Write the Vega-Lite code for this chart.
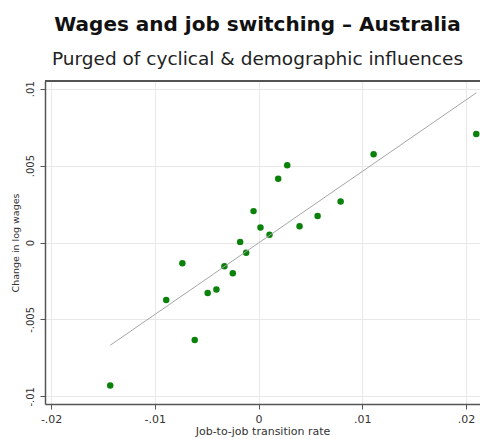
{
  "$schema": "https://vega.github.io/schema/vega-lite/v6.json",
  "width": 435,
  "height": 323,
  "autosize": {"type": "none"},
  "padding": {"left": 45, "top": 81, "right": 0, "bottom": 35},
  "background": "white",
  "config": {"view": {"stroke": null}},
  "title": {
    "text": "Wages and job switching – Australia",
    "subtitle": "Purged of cyclical & demographic influences",
    "anchor": "middle",
    "frame": "group",
    "font": "DejaVu Sans",
    "fontSize": 20,
    "fontWeight": "bold",
    "color": "#111111",
    "subtitleFont": "DejaVu Sans",
    "subtitleFontSize": 18.5,
    "subtitleColor": "#222222",
    "subtitlePadding": 15,
    "offset": 12,
    "dx": -5
  },
  "data": {
    "values": [
      {"x": -0.0143, "y": -0.0093},
      {"x": -0.0089, "y": -0.00374},
      {"x": -0.00734, "y": -0.00135},
      {"x": -0.00615, "y": -0.00634},
      {"x": -0.0049, "y": -0.00328},
      {"x": -0.00406, "y": -0.00306},
      {"x": -0.00329, "y": -0.00154},
      {"x": -0.00248, "y": -0.002},
      {"x": -0.00177, "y": 0.00004},
      {"x": -0.00119, "y": -0.00067},
      {"x": -0.00048, "y": 0.00204},
      {"x": 0.00019, "y": 0.00098},
      {"x": 0.00106, "y": 0.0005},
      {"x": 0.0019, "y": 0.00415},
      {"x": 0.00277, "y": 0.00502},
      {"x": 0.00396, "y": 0.00106},
      {"x": 0.0057, "y": 0.00172},
      {"x": 0.00792, "y": 0.00267},
      {"x": 0.0111, "y": 0.00574},
      {"x": 0.021, "y": 0.00706}
    ]
  },
  "layer": [
    {
      "mark": {"type": "point", "filled": true, "color": "#0a820a", "size": 42, "opacity": 1},
      "encoding": {
        "x": {
          "field": "x",
          "type": "quantitative",
          "scale": {"domain": [-0.02059, 0.02136], "nice": false, "zero": false},
          "axis": {
            "values": [-0.02, -0.01, 0, 0.01, 0.02],
            "labelExpr": "datum.value == 0 ? '0' : (datum.value < 0 ? '-' : '') + replace(format(abs(datum.value), '.2~f'), '0.', '.')",
            "grid": true,
            "gridColor": "#e8e8e8",
            "domain": true,
            "domainColor": "#555555",
            "domainWidth": 1.5,
            "tickColor": "#555555",
            "tickSize": 5,
            "labelFont": "DejaVu Sans",
            "labelFontSize": 11,
            "labelColor": "#333333",
            "labelPadding": 4,
            "title": "Job-to-job transition rate",
            "titleFont": "DejaVu Sans",
            "titleFontSize": 11,
            "titleFontWeight": "normal",
            "titleColor": "#333333",
            "titlePadding": 1
          }
        },
        "y": {
          "field": "y",
          "type": "quantitative",
          "scale": {"domain": [-0.0105, 0.0105], "nice": false, "zero": false},
          "axis": {
            "values": [-0.01, -0.005, 0, 0.005, 0.01],
            "labelExpr": "datum.value == 0 ? '0' : (datum.value < 0 ? '-' : '') + replace(format(abs(datum.value), '.3~f'), '0.', '.')",
            "grid": true,
            "gridColor": "#e8e8e8",
            "domain": true,
            "domainColor": "#555555",
            "domainWidth": 1.5,
            "tickColor": "#555555",
            "tickSize": 5,
            "labelAngle": -90,
            "labelAlign": "center",
            "labelBaseline": "bottom",
            "labelFont": "DejaVu Sans",
            "labelFontSize": 10,
            "labelColor": "#333333",
            "labelPadding": 5,
            "title": "Change in log wages",
            "titleFont": "DejaVu Sans",
            "titleFontSize": 9.5,
            "titleFontWeight": "normal",
            "titleColor": "#333333",
            "titlePadding": 5
          }
        }
      }
    },
    {
      "transform": [{"regression": "y", "on": "x"}],
      "mark": {"type": "line", "color": "#a6a6a6", "strokeWidth": 1},
      "encoding": {
        "x": {"field": "x", "type": "quantitative"},
        "y": {"field": "y", "type": "quantitative"}
      }
    },
    {
      "mark": {"type": "rule", "color": "#555555", "strokeWidth": 1.5},
      "encoding": {
        "y": {"datum": 0.0105, "type": "quantitative"}
      }
    }
  ]
}
